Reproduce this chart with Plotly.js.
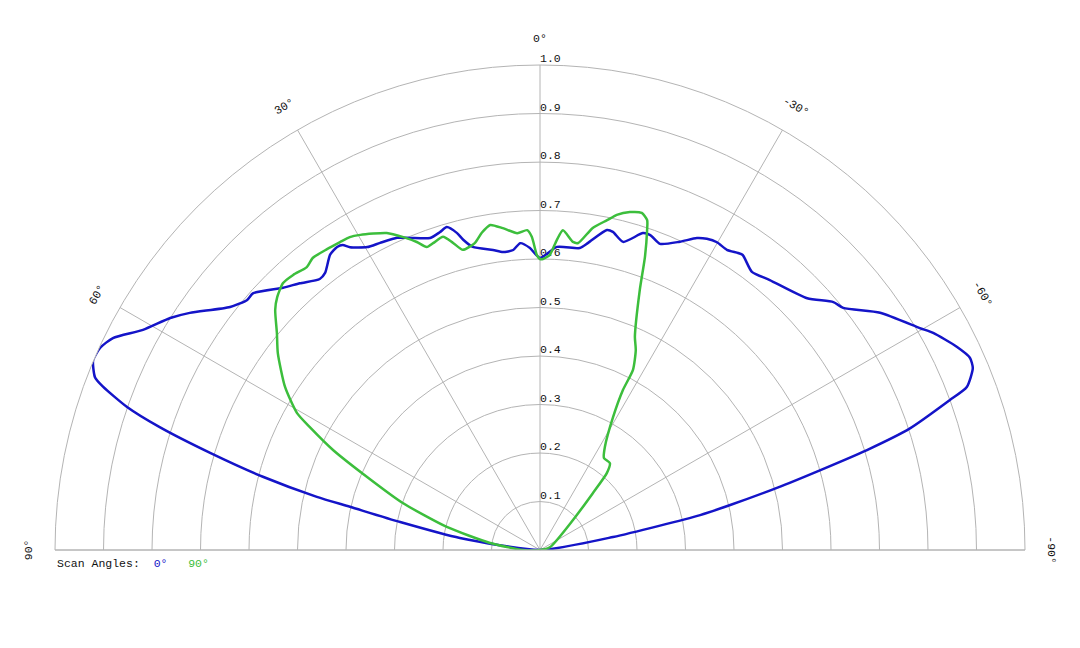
<!DOCTYPE html>
<html>
<head>
<meta charset="utf-8">
<script src="https://cdn.plot.ly/plotly-3.0.1.min.js"></script>
<style>html,body{margin:0;padding:0;background:#fff;}#chart{width:1080px;height:648px;}</style>
</head>
<body>
<div id="chart"></div>
<script>
// Scan angle 0° (blue) — angle in degrees (positive = left of 0°), relative intensity
var blueTheta = [-90, -79.9, -77.7, -76.7, -75.3, -74.1, -73.0, -71.8, -69.9, -69.1, -67.2, -65.9, -64.0, -61.1, -59.7, -55.1, -51.4, -49.8, -46.7, -40.4, -37.3, -34.5, -33.7, -31.9, -29.9, -28.2, -26.7, -24.4, -21.4, -19.3, -18.0, -15.1, -12.9, -11.8, -8.9, -7.5, -3.2, 0, 1.9, 3.7, 5.1, 7.1, 8.9, 12.5, 13.9, 14.7, 16.1, 17.5, 19.4, 22.6, 24.6, 27.5, 29.7, 32.1, 32.9, 33.8, 35.4, 37.8, 39.1, 42.0, 44.4, 48.2, 49.5, 51.9, 55.9, 57.9, 61.0, 63.6, 65.3, 67.0, 68.8, 69.5, 70.9, 72.1, 73.6, 75.2, 76.6, 77.2, 78.7, 81.5, 90];
var blueR = [0, 0.153, 0.338, 0.403, 0.505, 0.600, 0.705, 0.803, 0.900, 0.942, 0.968, 0.971, 0.956, 0.926, 0.907, 0.855, 0.800, 0.792, 0.757, 0.731, 0.721, 0.738, 0.736, 0.729, 0.732, 0.728, 0.720, 0.698, 0.678, 0.688, 0.687, 0.658, 0.673, 0.674, 0.641, 0.628, 0.626, 0.602, 0.623, 0.634, 0.621, 0.619, 0.626, 0.640, 0.659, 0.676, 0.693, 0.687, 0.682, 0.697, 0.708, 0.714, 0.719, 0.737, 0.749, 0.752, 0.747, 0.723, 0.720, 0.740, 0.757, 0.794, 0.794, 0.812, 0.872, 0.900, 0.936, 0.983, 0.998, 1.001, 0.984, 0.962, 0.901, 0.824, 0.709, 0.591, 0.473, 0.402, 0.294, 0.167, 0];

// Scan angle 90° (green)
var greenTheta = [-90, -73.3, -47.7, -42.9, -41.0, -38.8, -34.8, -32.2, -28.8, -27.4, -27.3, -25.6, -24.0, -21.0, -19.7, -18.5, -18.0, -16.8, -14.9, -12.9, -11.5, -9.3, -7.1, -6.1, -4.1, -3.1, -1.9, -0.6, 0, 0.6, 1.5, 2.3, 4.1, 6.6, 8.7, 10.4, 12.0, 14.4, 15.8, 17.2, 19.2, 20.5, 21.8, 23.6, 25.8, 29.7, 31.3, 33.0, 35.3, 37.9, 39.5, 41.9, 43.9, 46.1, 47.8, 50.5, 53.1, 57.4, 60.6, 61.9, 64.2, 67.1, 71.1, 76.1, 82.0, 90, 90];
var greenR = [0, 0.022, 0.092, 0.160, 0.210, 0.230, 0.231, 0.251, 0.313, 0.372, 0.418, 0.457, 0.481, 0.574, 0.642, 0.696, 0.715, 0.726, 0.721, 0.709, 0.694, 0.673, 0.638, 0.639, 0.661, 0.640, 0.609, 0.600, 0.600, 0.608, 0.646, 0.660, 0.655, 0.668, 0.678, 0.665, 0.647, 0.639, 0.658, 0.676, 0.670, 0.667, 0.684, 0.704, 0.726, 0.748, 0.755, 0.757, 0.760, 0.763, 0.756, 0.762, 0.764, 0.752, 0.737, 0.703, 0.676, 0.624, 0.575, 0.538, 0.474, 0.387, 0.299, 0.198, 0.104, 0.035, 0];

var radialTicks = [0.1, 0.2, 0.3, 0.4, 0.5, 0.6, 0.7, 0.8, 0.9, 1.0];
var radialTickLabels = ['0.1', '0.2', '0.3', '0.4', '0.5', '0.6', '0.7', '0.8', '0.9', '1.0'];
var angleTicks = [0, 30, 60, 90, -30, -60, -90];
var angleTickLabels = ['0°', '30°', '60°', '90°', '-30°', '-60°', '-90°'];

var W = 1080, H = 648;
var domX = [54 / W, 1026 / W];
var domY = [(H - 550) / H, (H - 65) / H];
var FONT = '"Courier New", "Liberation Mono", "DejaVu Sans Mono", monospace';
var GRID = '#b4b4b4';
var TXT = '#111';

// geometry of the polar sector for the rotated angle labels
var cxPx = (domX[0] + domX[1]) / 2 * W;
var cyPx = H - domY[0] * H;
var Rpx = (domX[1] - domX[0]) * W / 2;
var labelR = Rpx * 1.053;

var annotations = angleTicks.map(function (a, i) {
  var rad = a * Math.PI / 180;
  var px = cxPx - labelR * Math.sin(rad);
  var py = cyPx - labelR * Math.cos(rad);
  return {
    xref: 'paper', yref: 'paper', x: px / W, y: (H - py) / H,
    text: angleTickLabels[i], showarrow: false, textangle: -a,
    xanchor: 'center', yanchor: 'middle',
    font: {family: FONT, size: 11.5, color: TXT}
  };
});
annotations.push({
  xref: 'paper', yref: 'paper', x: 55 / W, y: (H - 563) / H,
  xanchor: 'left', yanchor: 'middle', showarrow: false,
  text: 'Scan Angles:\u00a0\u00a0<span style="color:#1414c8">0°</span>\u00a0\u00a0\u00a0<span style="color:#3cbe3c">90°</span>',
  font: {family: FONT, size: 11.5, color: TXT}
});

var traces = [
  {
    type: 'scatterpolar', mode: 'text', r: radialTicks, theta: radialTicks.map(function () { return 0; }),
    text: radialTickLabels, textposition: 'top right', cliponaxis: false,
    textfont: {family: FONT, size: 11.5, color: TXT}, hoverinfo: 'skip', showlegend: false
  },
  {
    type: 'scatterpolar', mode: 'lines', r: blueR, theta: blueTheta, name: '0°',
    line: {color: '#1414c8', width: 2.5, shape: 'spline', smoothing: 0.6}, showlegend: false
  },
  {
    type: 'scatterpolar', mode: 'lines', r: greenR, theta: greenTheta, name: '90°',
    line: {color: '#3cbe3c', width: 2.5, shape: 'spline', smoothing: 0.6}, showlegend: false
  }
];

var layout = {
  width: W, height: H,
  margin: {l: 0, r: 0, t: 0, b: 0},
  paper_bgcolor: '#fff',
  showlegend: false,
  polar: {
    domain: {x: domX, y: domY},
    sector: [0, 180],
    bgcolor: '#fff',
    angularaxis: {
      rotation: 90, direction: 'counterclockwise', dtick: 30, tick0: 0,
      showticklabels: false, ticks: '', gridcolor: GRID, gridwidth: 1,
      showline: true, linecolor: GRID, linewidth: 1
    },
    radialaxis: {
      range: [0, 1], dtick: 0.1, tick0: 0, angle: 90,
      showticklabels: false, ticks: '', showline: false,
      gridcolor: GRID, gridwidth: 1
    }
  },
  annotations: annotations
};

Plotly.newPlot('chart', traces, layout, {displayModeBar: false, staticPlot: true});
</script>
</body>
</html>
